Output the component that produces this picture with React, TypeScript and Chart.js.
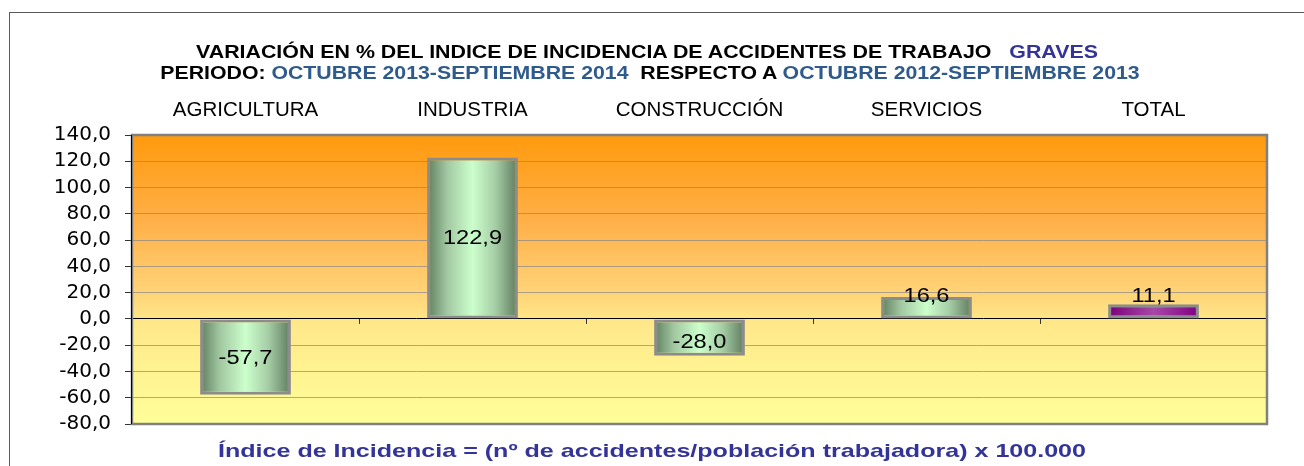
import React, { useEffect, useRef } from "react";
import { Chart, registerables } from "chart.js";
Chart.register(...registerables);

const categories = ["AGRICULTURA", "INDUSTRIA", "CONSTRUCCIÓN", "SERVICIOS", "TOTAL"];
const values = [-57.7, 122.9, -28.0, 16.6, 11.1];
const yMin = -80;
const yMax = 140;
const yStep = 20;

const titleLine1 = "VARIACIÓN EN % DEL INDICE DE INCIDENCIA DE ACCIDENTES DE TRABAJO";
const titleHighlight1 = "GRAVES";
const titleLine2a = "PERIODO: ";
const titleLine2b = "OCTUBRE 2013-SEPTIEMBRE 2014";
const titleLine2c = "  RESPECTO A ";
const titleLine2d = "OCTUBRE 2012-SEPTIEMBRE 2013";
const footnote = "Índice de Incidencia = (nº de accidentes/población trabajadora) x 100.000";

const FONT = "'Liberation Sans', Arial, sans-serif";
const TICKFONT = "'DejaVu Sans', 'Liberation Sans', sans-serif";
const fmt = (v: number) => v.toFixed(1).replace(".", ",");

const AREA = { left: 132, right: 1267, top: 135, bottom: 424 };
const W = 1304;
const H = 466;

const bgPlugin = {
  id: "bgPlugin",
  beforeDraw(chart: any) {
    const { ctx, chartArea: a } = chart;
    if (!a) return;
    const g = ctx.createLinearGradient(0, a.top, 0, a.bottom);
    g.addColorStop(0, "#ff9a0e");
    g.addColorStop(0.3, "#ffb048");
    g.addColorStop(0.55, "#ffd478");
    g.addColorStop(0.65, "#ffe88a");
    g.addColorStop(1, "#ffff99");
    ctx.save();
    ctx.fillStyle = g;
    ctx.fillRect(a.left, a.top, a.right - a.left, a.bottom - a.top);
    ctx.restore();
  },
  afterDraw(chart: any) {
    const { ctx, chartArea: a } = chart;
    const y0 = chart.scales.y.getPixelForValue(0);
    ctx.save();
    ctx.strokeStyle = "#808080";
    ctx.lineWidth = 2.5;
    ctx.strokeRect(a.left, a.top, a.right - a.left, a.bottom - a.top);
    ctx.strokeStyle = "#000";
    ctx.lineWidth = 1;
    ctx.beginPath();
    ctx.moveTo(a.left - 0.5, a.top);
    ctx.lineTo(a.left - 0.5, a.bottom);
    ctx.stroke();
    const n = categories.length;
    const cw = (a.right - a.left) / n;
    ctx.strokeStyle = "#333";
    for (let i = 1; i < n; i++) {
      const x = Math.round(a.left + i * cw) + 0.5;
      ctx.beginPath();
      ctx.moveTo(x, y0);
      ctx.lineTo(x, y0 + 5);
      ctx.stroke();
    }
    ctx.restore();
  },
};

const labelPlugin = {
  id: "labelPlugin",
  afterDatasetsDraw(chart: any) {
    const { ctx } = chart;
    const meta = chart.getDatasetMeta(0);
    meta.data.forEach((bar: any, i: number) => {
      const top = Math.min(bar.y, bar.base);
      const bot = Math.max(bar.y, bar.base);
      const h = bot - top;
      let y = (top + bot) / 2;
      if (h < 30) y = bar.base - 23;
      else if (h < 45) y += 4;
      ctx.save();
      ctx.translate(bar.x, y + 1);
      ctx.scale(1.18, 1);
      ctx.font = `20px ${FONT}`;
      ctx.fillStyle = "#000";
      ctx.textAlign = "center";
      ctx.textBaseline = "middle";
      ctx.fillText(fmt(values[i]), 0, 0);
      ctx.restore();
    });
  },
};

function barGradient(context: any) {
  const chart = context.chart;
  const a = chart.chartArea;
  const i = context.dataIndex;
  const isTotal = i === categories.length - 1;
  if (!a) return isTotal ? "#993399" : "#a8d8a8";
  const cw = (a.right - a.left) / categories.length;
  const cx = a.left + cw * (i + 0.5);
  const half = (cw * 0.4) / 2;
  const g = chart.ctx.createLinearGradient(cx - half, 0, cx + half, 0);
  if (isTotal) {
    g.addColorStop(0, "#7a007a");
    g.addColorStop(0.5, "#a848a8");
    g.addColorStop(1, "#800080");
  } else {
    g.addColorStop(0, "#5e7e5e");
    g.addColorStop(0.22, "#a2c8a2");
    g.addColorStop(0.5, "#ccffcc");
    g.addColorStop(0.75, "#a6cea6");
    g.addColorStop(1, "#5e7a5e");
  }
  return g;
}

const titleBase: React.CSSProperties = {
  position: "absolute",
  left: 0,
  width: W,
  textAlign: "center",
  fontWeight: "bold",
  fontSize: 18.5,
  lineHeight: "22px",
  whiteSpace: "pre",
  transformOrigin: "50% 50%",
};

export default function App() {
  const ref = useRef<HTMLCanvasElement>(null);
  useEffect(() => {
    if (!ref.current) return;
    const chart = new Chart(ref.current, {
      type: "bar",
      data: {
        labels: categories,
        datasets: [
          {
            data: values,
            backgroundColor: barGradient,
            borderColor: "#8c8c8c",
            borderWidth: 3,
            borderSkipped: false,
            barPercentage: 0.4,
            categoryPercentage: 1,
          },
        ],
      },
      options: {
        animation: false,
        responsive: false,
        maintainAspectRatio: false,
        layout: { padding: { left: 0, right: W - AREA.right, top: 0, bottom: H - AREA.bottom } },
        plugins: { legend: { display: false }, title: { display: false }, tooltip: { enabled: false } },
        scales: {
          x: {
            position: "top",
            offset: true,
            grid: { display: false, drawTicks: false },
            border: { display: false },
            ticks: { color: "#000", font: { family: FONT, size: 20.5 }, padding: 12, maxRotation: 0, autoSkip: false },
            afterFit: (s: any) => { s.height = AREA.top; },
          },
          y: {
            min: yMin,
            max: yMax,
            ticks: {
              stepSize: yStep,
              autoSkip: false,
              color: "#000",
              font: { family: TICKFONT, size: 20 },
              padding: 14,
              callback: (v: any) => fmt(Number(v)),
            },
            grid: {
              color: (c: any) => {
                const v = c.tick && c.tick.value;
                if (v === 0) return "#000";
                if (v === yMin || v === yMax) return "rgba(0,0,0,0)";
                return "rgba(135,135,135,0.7)";
              },
              tickColor: "#333",
              tickLength: 7,
              lineWidth: 1,
            },
            border: { display: true, color: "#000" },
            afterFit: (s: any) => { s.width = AREA.left; },
          },
        },
      },
      plugins: [bgPlugin, labelPlugin],
    });
    return () => chart.destroy();
  }, []);

  return (
    <div style={{ position: "fixed", left: 0, top: 0, width: W, height: H, overflow: "hidden", background: "#fff", fontFamily: FONT }}>
      <div style={{ position: "absolute", left: 9, top: 12, width: 1400, height: 600, borderTop: "1px solid #5a5a5a", borderLeft: "1px solid #5a5a5a" }} />
      <canvas ref={ref} width={W} height={H} style={{ position: "absolute", left: 0, top: 0, width: W, height: H }} />
      <div style={{ ...titleBase, top: 41, color: "#000", left: -5, transform: "scaleX(1.155)" }}>
        {titleLine1}{"   "}<span style={{ color: "#33339a" }}>{titleHighlight1}</span>
      </div>
      <div style={{ ...titleBase, top: 62, color: "#000", left: -2, transform: "scaleX(1.15)" }}>
        {titleLine2a}<span style={{ color: "#2e5a8c" }}>{titleLine2b}</span>{titleLine2c}<span style={{ color: "#2e5a8c" }}>{titleLine2d}</span>
      </div>
      <div style={{ ...titleBase, top: 440, color: "#33339a", transform: "scaleX(1.355)" }}>
        {footnote}
      </div>
    </div>
  );
}
